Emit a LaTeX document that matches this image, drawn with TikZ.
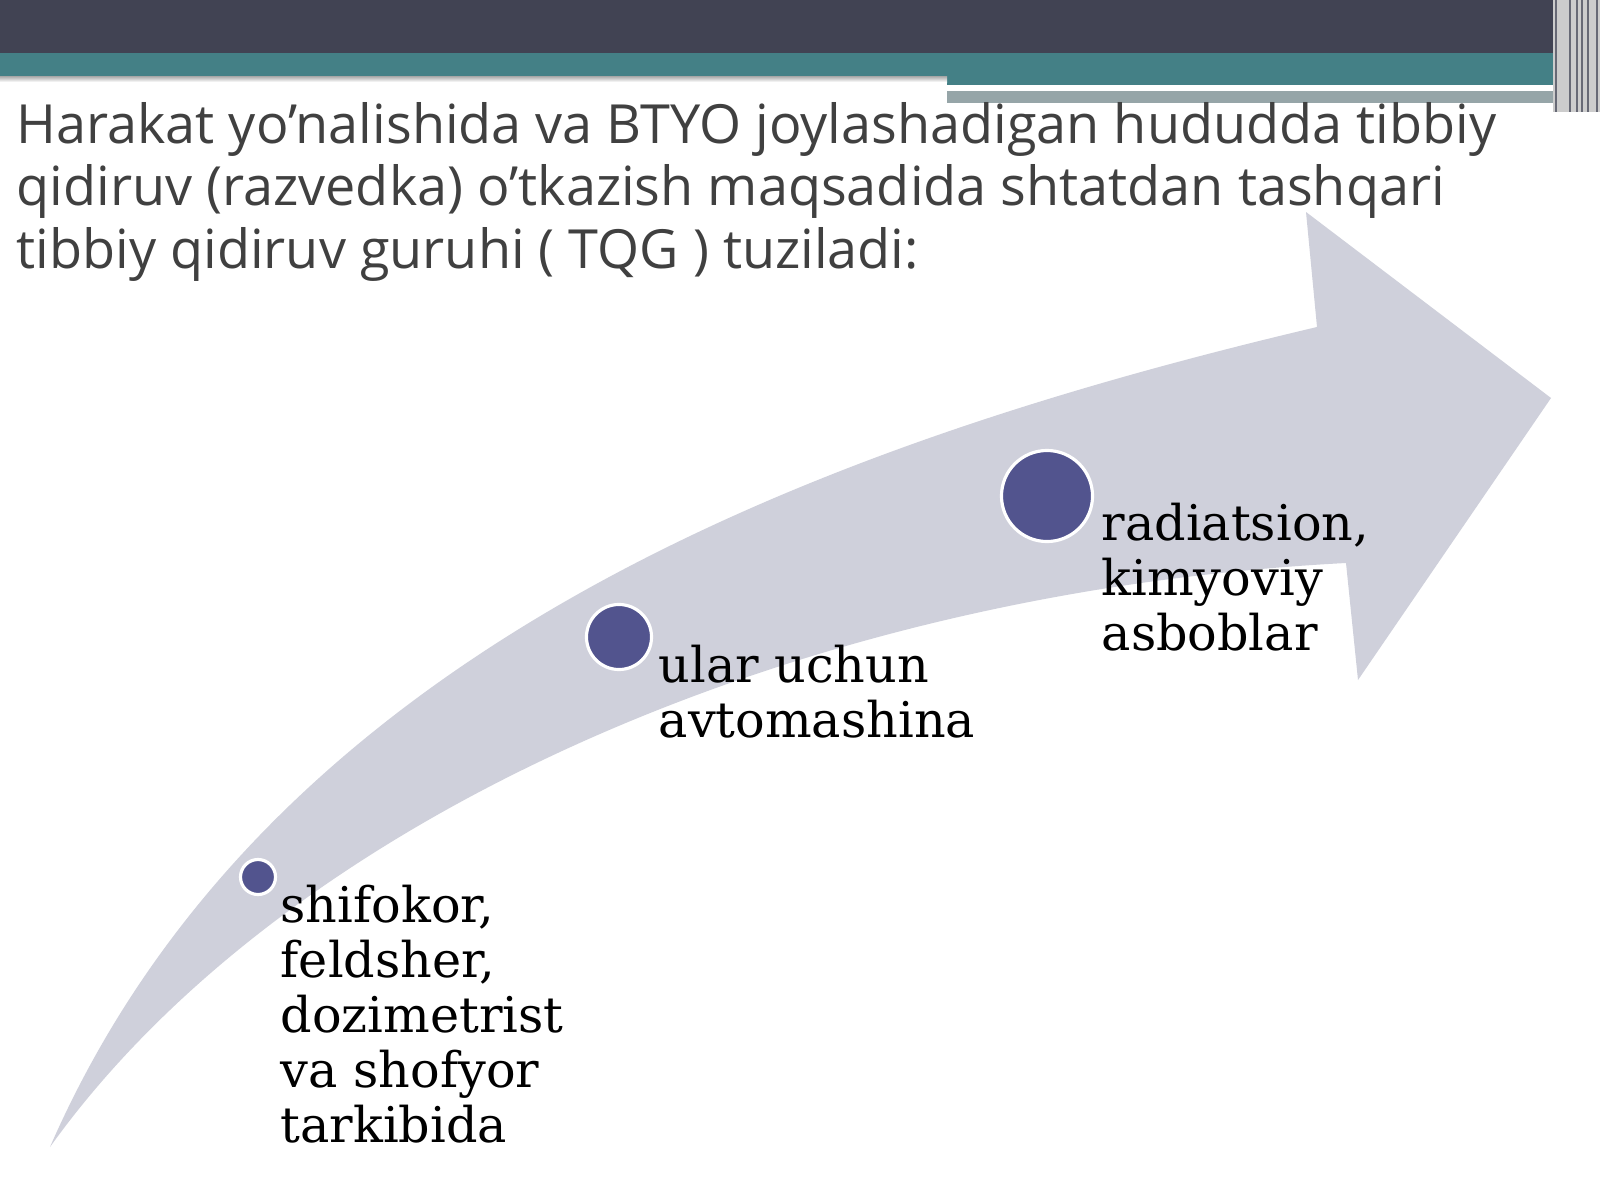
\documentclass[tikz,border=0pt]{standalone}
\usepackage{fontspec}
\setmainfont{DejaVu Serif}
\newfontfamily\headfont{Open Sans}
\usetikzlibrary{positioning}
\definecolor{barDark}{RGB}{65,67,83}
\definecolor{barTeal}{RGB}{68,128,134}
\definecolor{barGrey}{RGB}{150,165,168}
\definecolor{arrowFill}{RGB}{207,208,219}
\definecolor{dotFill}{RGB}{82,84,142}
\definecolor{headText}{RGB}{64,64,64}

\begin{document}
\begin{tikzpicture}[x=0.01cm, y=-0.01cm,
  dot/.style={circle, fill=dotFill, draw=white, line width=0.9pt, inner sep=0pt},
  item/.style={anchor=base west, align=left, inner sep=0pt, font=\fontsize{14}{15.6}\selectfont},
  heading/.style={anchor=base west, align=left, inner sep=0pt, text=headText, font=\headfont\fontsize{15.35}{17.7}\selectfont}]
  \useasboundingbox[fill=white] (0,0) rectangle (1600,1200);
  \fill[barDark] (0,0) rectangle (1553,53);
  \fill[barTeal] (0,53) rectangle (1553,76);
  \fill[barTeal] (947,76) rectangle (1553,85);
  \shade[top color=gray!70, bottom color=white] (0,76) rectangle (947,82);
  \fill[white] (947,85) rectangle (1480,91);
  \fill[barGrey] (947,91) rectangle (1553,103);
  \fill[gray!40] (1553,0) rectangle (1600,112);
  \foreach \x in {1556,1570,1577,1582,1588,1597}
    \draw[barDark!80, line width=0.6pt] (\x,0) -- (\x,112);

  \coordinate (tail) at (50,1147);
  \coordinate (upper) at (1317,327);
  \coordinate (lower) at (1346,563);
  \fill[arrowFill] (tail) .. controls (270,643) and (830,442) .. (upper)
    -- (1306,212) -- (1551,398) -- (1358,680) -- (lower)
    .. controls (790,592) and (282,823) .. (tail) -- cycle;

  % anchors sit on the baseline of the last line
  \node[heading] (title) at (16,268) {Harakat yo’nalishida va BTYO joylashadigan hududda tibbiy\\qidiruv (razvedka) o’tkazish maqsadida shtatdan tashqari\\tibbiy qidiruv guruhi ( TQG ) tuziladi:};

  \node[dot, minimum size=0.35cm] (dotA) at (258,877) {};
  \node[dot, minimum size=0.65cm] (dotB) at (619,637) {};
  \node[dot, minimum size=0.91cm] (dotC) at (1047,496) {};

  \node[item] (itemA) at (280,1142) {shifokor,\\feldsher,\\dozimetrist\\va shofyor\\tarkibida};
  \node[item] (itemB) at (658,737) {ular uchun\\avtomashina};
  \node[item] (itemC) at (1101,650) {radiatsion,\\kimyoviy\\asboblar};
\end{tikzpicture}
\end{document}
